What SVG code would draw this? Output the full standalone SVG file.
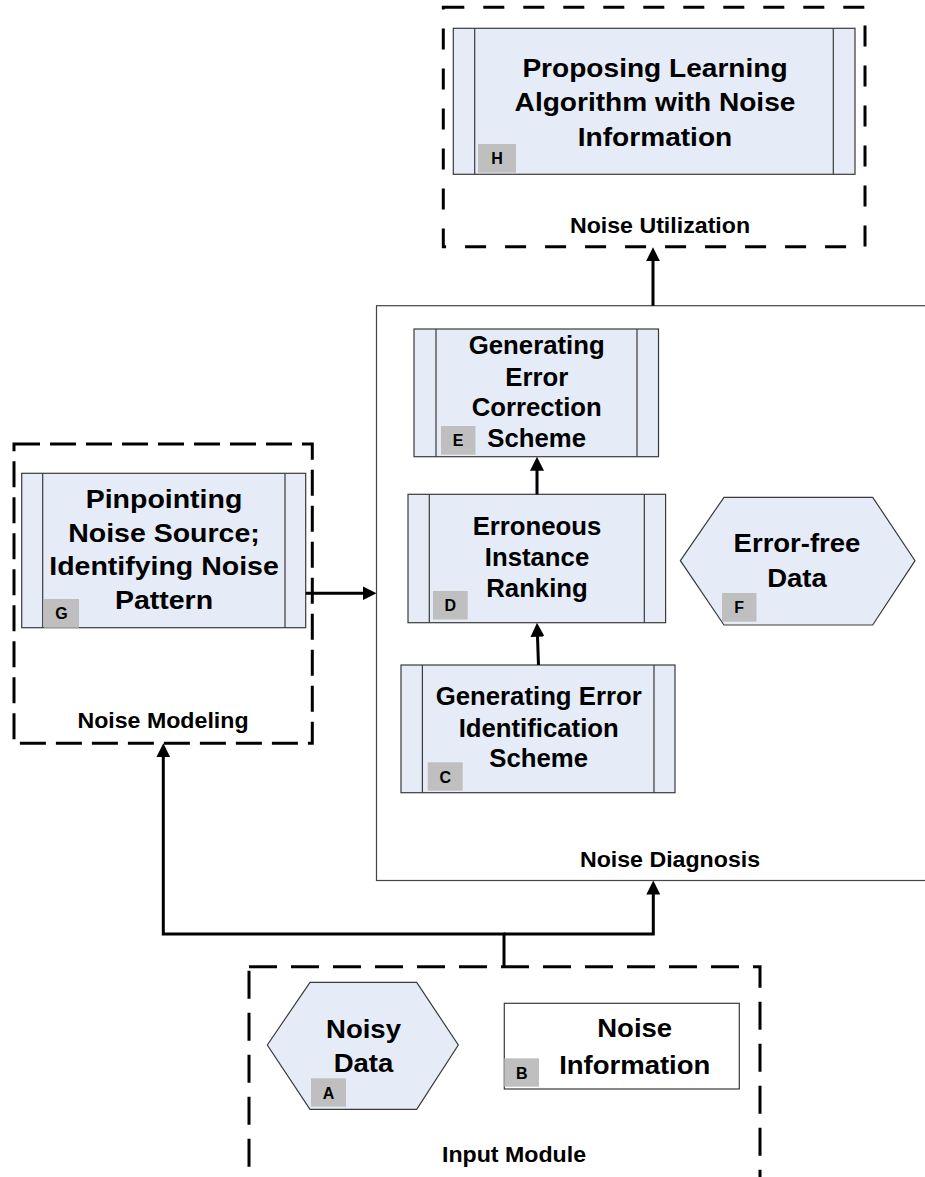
<svg xmlns="http://www.w3.org/2000/svg" width="925" height="1177" viewBox="0 0 925 1177">
  <defs>
    <style>
      .box{fill:#E6ECF7;stroke:#3a3a3a;stroke-width:1.2}
      .plain{fill:#fff;stroke:#3a3a3a;stroke-width:1.2}
      .div{stroke:#3a3a3a;stroke-width:1.2}
      .badge{fill:#BFBFBF}
      .frame{fill:none;stroke:#000;stroke-width:3}
      .stage{fill:#fff;stroke:#444;stroke-width:1.2}
      .conn{fill:none;stroke:#000;stroke-width:3}
      .t{font-family:"Liberation Sans",Arial,Helvetica,sans-serif;font-weight:bold;fill:#000;text-anchor:middle}
      .title{font-size:26.5px}
      .body{font-size:25px}
      .lbl{font-size:22.5px}
      .bt{font-size:16px}
    </style>
    <marker id="arrow" markerUnits="userSpaceOnUse" markerWidth="14" markerHeight="14" refX="6" refY="7" orient="auto">
      <path d="M0,0 L14,7 L0,14 z" fill="#000"/>
    </marker>
  </defs>

  <rect width="925" height="1177" fill="#fff"/>

  <!-- Noise Diagnosis stage (open to the right) -->
  <g id="noise-diagnosis">
    <rect class="stage" x="376.5" y="305.7" width="600" height="574.8"/>
    <g transform="translate(670 0) scale(1.03 1)"><text class="t lbl" x="0" y="867">Noise Diagnosis</text></g>
  </g>

  <!-- Noise Utilization frame -->
  <g id="noise-utilization">
    <rect class="frame" x="443.3" y="7.3" width="421.7" height="239.4" stroke-dasharray="21 19"/>
    <g transform="translate(660 0) scale(1.03 1)"><text class="t lbl" x="0" y="233">Noise Utilization</text></g>
  </g>

  <!-- H: learning algorithm -->
  <g id="node-h">
    <rect class="box" x="453.3" y="28.3" width="401.7" height="146"/>
    <line class="div" x1="474.7" y1="28.3" x2="474.7" y2="174.3"/>
    <line class="div" x1="833.3" y1="28.3" x2="833.3" y2="174.3"/>
    <rect class="badge" x="478" y="144" width="38" height="28.7"/>
    <text class="t bt" x="497" y="164">H</text>
    <g transform="translate(655 0) scale(1.06 1)">
      <text class="t title"><tspan x="0" y="77">Proposing Learning</tspan><tspan x="0" y="111.5">Algorithm with Noise</tspan><tspan x="0" y="145.7">Information</tspan></text>
    </g>
  </g>

  <!-- E: error correction -->
  <g id="node-e">
    <rect class="box" x="414" y="329" width="244.5" height="127.7"/>
    <line class="div" x1="436" y1="329" x2="436" y2="456.7"/>
    <line class="div" x1="637" y1="329" x2="637" y2="456.7"/>
    <rect class="badge" x="441" y="426" width="34.5" height="28.7"/>
    <text class="t bt" x="458.2" y="446">E</text>
    <g transform="translate(536.7 0) scale(1.03 1)">
      <text class="t body"><tspan x="0" y="354.5">Generating</tspan><tspan x="0" y="385.7">Error</tspan><tspan x="0" y="416">Correction</tspan><tspan x="0" y="446.7">Scheme</tspan></text>
    </g>
  </g>

  <!-- D: ranking -->
  <g id="node-d">
    <rect class="box" x="408" y="494.3" width="257.6" height="128.4"/>
    <line class="div" x1="429.3" y1="494.3" x2="429.3" y2="622.7"/>
    <line class="div" x1="644.3" y1="494.3" x2="644.3" y2="622.7"/>
    <rect class="badge" x="433" y="591" width="34.7" height="28.5"/>
    <text class="t bt" x="450.3" y="611">D</text>
    <g transform="translate(537 0) scale(1.03 1)">
      <text class="t body"><tspan x="0" y="535.5">Erroneous</tspan><tspan x="0" y="566.5">Instance</tspan><tspan x="0" y="597">Ranking</tspan></text>
    </g>
  </g>

  <!-- F: clean data -->
  <g id="node-f">
    <polygon class="box" points="680.4,560.7 724,497.3 872.7,497.3 915,560.7 872.7,625 724,625"/>
    <rect class="badge" x="722" y="593" width="34.5" height="28.7"/>
    <text class="t bt" x="739.2" y="613">F</text>
    <g transform="translate(797 0) scale(1.1 1)">
      <text class="t body"><tspan x="0" y="551.7">Error-free</tspan><tspan x="0" y="586.7">Data</tspan></text>
    </g>
  </g>

  <!-- C: error identification -->
  <g id="node-c">
    <rect class="box" x="401" y="665" width="274" height="127.7"/>
    <line class="div" x1="422.4" y1="665" x2="422.4" y2="792.7"/>
    <line class="div" x1="654" y1="665" x2="654" y2="792.7"/>
    <rect class="badge" x="427.7" y="762.3" width="35" height="28.4"/>
    <text class="t bt" x="445.2" y="782.5">C</text>
    <g transform="translate(538.7 0) scale(1.03 1)">
      <text class="t body"><tspan x="0" y="705">Generating Error</tspan><tspan x="0" y="736.7">Identification</tspan><tspan x="0" y="766.7">Scheme</tspan></text>
    </g>
  </g>

  <!-- Noise Modeling frame -->
  <g id="noise-modeling">
    <rect class="frame" x="14" y="444" width="298.3" height="299.3" stroke-dasharray="26 10"/>
    <g transform="translate(163 0) scale(1.03 1)"><text class="t lbl" x="0" y="727.7">Noise Modeling</text></g>
  </g>

  <!-- G: noise source / pattern -->
  <g id="node-g">
    <rect class="box" x="21.7" y="473.3" width="284" height="154.4"/>
    <line class="div" x1="42.7" y1="473.3" x2="42.7" y2="627.7"/>
    <line class="div" x1="285" y1="473.3" x2="285" y2="627.7"/>
    <rect class="badge" x="44" y="599" width="35" height="28.7"/>
    <text class="t bt" x="61.5" y="619">G</text>
    <g transform="translate(164 0) scale(1.14 1)">
      <text class="t body"><tspan x="0" y="508.5">Pinpointing</tspan><tspan x="0" y="542">Noise Source;</tspan><tspan x="0" y="575.5">Identifying Noise</tspan><tspan x="0" y="609">Pattern</tspan></text>
    </g>
  </g>

  <!-- Input Module frame -->
  <g id="input-module">
    <rect class="frame" x="249" y="966.7" width="511" height="240" stroke-dasharray="28 14"/>
    <g transform="translate(514 0) scale(1.03 1)"><text class="t lbl" x="0" y="1161.7">Input Module</text></g>
  </g>

  <!-- A: noisy data -->
  <g id="node-a">
    <polygon class="box" points="267.3,1045 310,982.3 416.7,982.3 458.3,1045 416.7,1109.3 310,1109.3"/>
    <rect class="badge" x="311" y="1078.3" width="35" height="28.4"/>
    <text class="t bt" x="328.5" y="1098.5">A</text>
    <g transform="translate(363.5 0) scale(1.06 1)">
      <text class="t" style="font-size:26px"><tspan x="0" y="1038.3">Noisy</tspan><tspan x="0" y="1071.7">Data</tspan></text>
    </g>
  </g>

  <!-- B: noise information -->
  <g id="node-b">
    <rect class="plain" x="504.3" y="1003.3" width="235" height="85.7"/>
    <rect class="badge" x="504.3" y="1058.3" width="34.7" height="28.4"/>
    <text class="t bt" x="521.7" y="1078.5">B</text>
    <g transform="translate(634.7 0) scale(1.1 1)">
      <text class="t body"><tspan x="0" y="1036.7">Noise</tspan><tspan x="0" y="1073.7">Information</tspan></text>
    </g>
  </g>

  <!-- connectors -->
  <g id="connectors">
    <path class="conn" d="M653,305.7 V255.3" marker-end="url(#arrow)"/>
    <path class="conn" d="M305.7,593.3 H368.5" marker-end="url(#arrow)"/>
    <path class="conn" d="M537,494.3 V464.7" marker-end="url(#arrow)"/>
    <path class="conn" d="M538.5,665 L537.3,630.7" marker-end="url(#arrow)"/>
    <path class="conn" d="M504,966.7 V934 H163.3 V751.3" marker-end="url(#arrow)"/>
    <path class="conn" d="M504,934 H653.3 V888.5" marker-end="url(#arrow)"/>
  </g>
</svg>
